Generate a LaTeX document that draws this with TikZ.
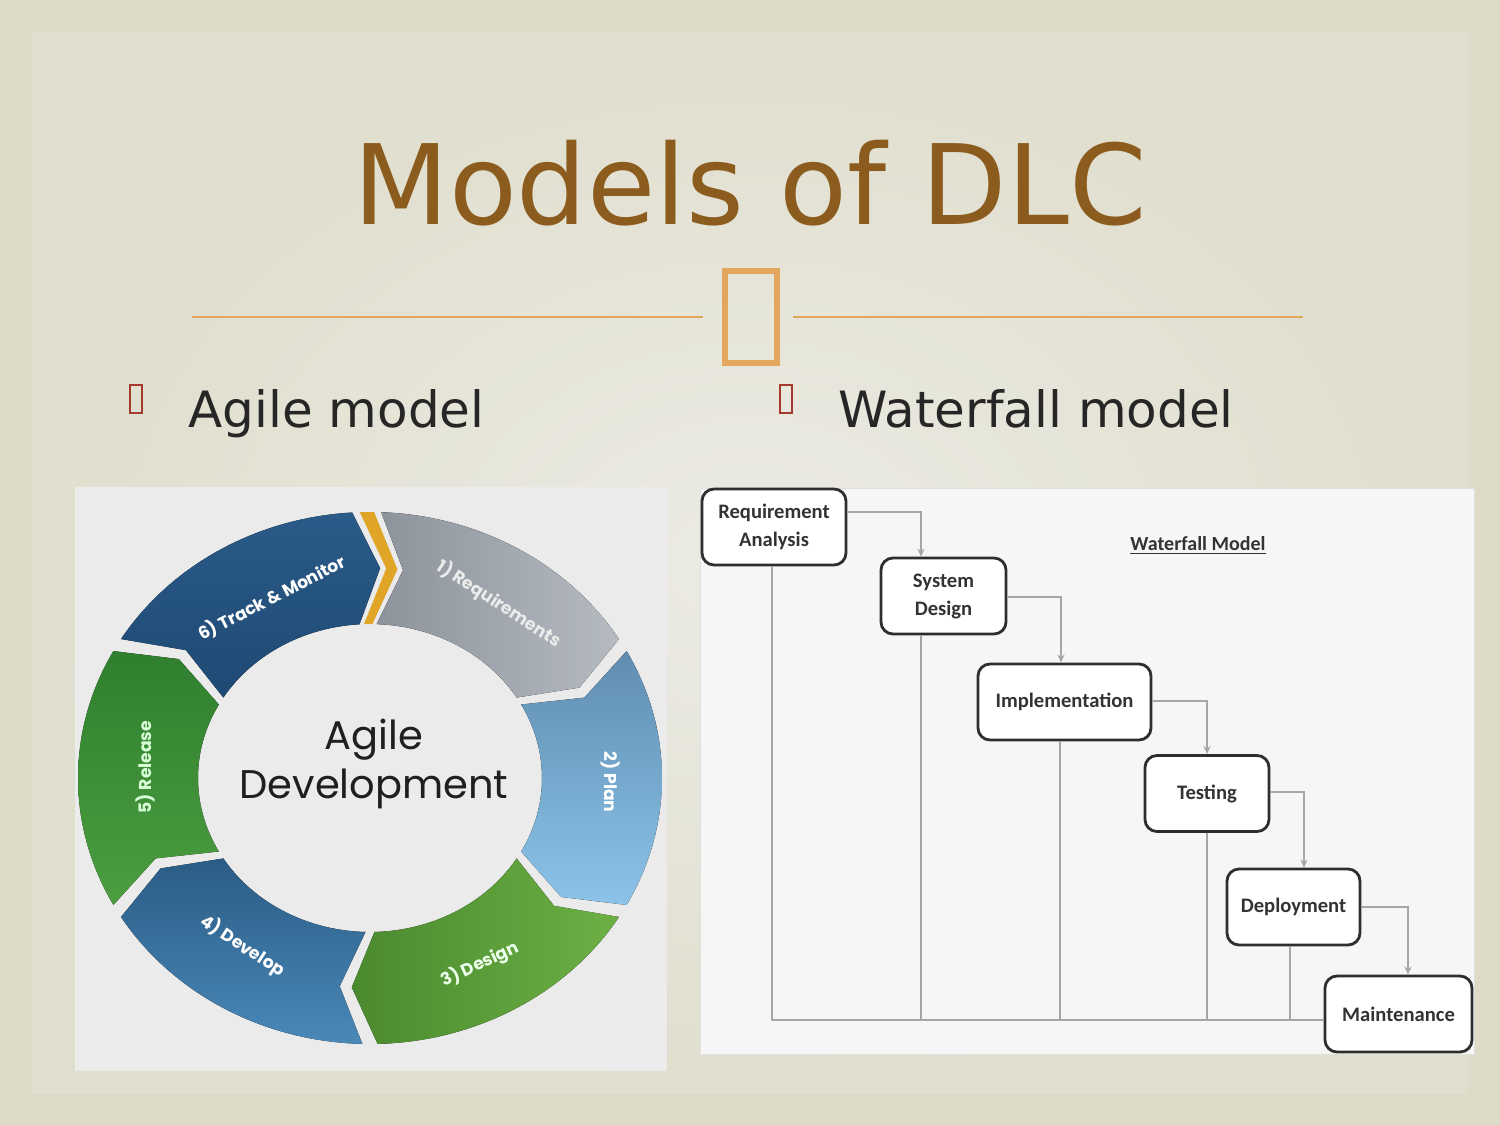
\documentclass[tikz,border=0pt]{standalone}
\usepackage{fontspec}
\setmainfont{DejaVu Sans}
\newfontfamily\popfont{Poppins}
\newfontfamily\carfont{Carlito}
\usetikzlibrary{arrows.meta}
\definecolor{bgout}{HTML}{DDDBC8}
\definecolor{bgmid}{HTML}{E0DECD}
\definecolor{bgin}{HTML}{ECEBE4}
\definecolor{titlebrown}{HTML}{8B5C1E}
\definecolor{rulegold}{HTML}{E2A75C}
\definecolor{bulletred}{HTML}{A23A2D}
\definecolor{bodytext}{HTML}{262626}
\definecolor{agilebg}{HTML}{EBEBEB}
\definecolor{wfbg}{HTML}{F6F6F6}
\definecolor{chevgold}{HTML}{E0A526}
\definecolor{s6a}{HTML}{2A5A87}\definecolor{s6b}{HTML}{1E4A74}
\definecolor{s1a}{HTML}{8D939B}\definecolor{s1b}{HTML}{B6BBC2}
\definecolor{s2a}{HTML}{5F8DB1}\definecolor{s2b}{HTML}{8CC3E8}
\definecolor{s3a}{HTML}{4A8A2E}\definecolor{s3b}{HTML}{6CB045}
\definecolor{s4a}{HTML}{2B5C85}\definecolor{s4b}{HTML}{4A88B8}
\definecolor{s5a}{HTML}{2F7F2F}\definecolor{s5b}{HTML}{4C9E40}
\def\wcx{370}\def\wcy{778}
\def\wRx{292}\def\wRy{266}
\def\wrx{172}\def\wry{154}
\def\wmx{232}\def\wmy{210}
\newcommand\agileseg[3]{%
  \fill[#3] plot[domain=#1:#2, samples=40, variable=\t] ({\wcx+\wRx*cos(\t)},{\wcy-\wRy*sin(\t)})
    -- ({\wcx+\wmx*cos(#2-6)},{\wcy-\wmy*sin(#2-6)})
    -- plot[domain=#2:#1, samples=40, variable=\t] ({\wcx+\wrx*cos(\t)},{\wcy-\wry*sin(\t)})
    -- ({\wcx+\wmx*cos(#1-6)},{\wcy-\wmy*sin(#1-6)}) -- cycle;}
\begin{document}
\begin{tikzpicture}[x=0.5pt,y=-0.5pt,
  seglabel/.style={font=\popfont\bfseries\fontsize{8.6}{10}\selectfont, inner sep=0pt},
  wfbox/.style={draw=black!82, line width=1.4pt, rounded corners=6pt, fill=white,
    font=\carfont\bfseries\fontsize{10.3}{14}\selectfont, text=black!80, align=center,
    minimum height=38pt, inner sep=0pt},
  wfline/.style={draw=black!35, line width=1pt},
  wfarrow/.style={wfline, -{Stealth[length=4pt,width=3.5pt]}},
]
\useasboundingbox (0,0) rectangle (1500,1125);
% background
\fill[bgout] (0,0) rectangle (1500,1125);
\shade[inner color=bgin, outer color=bgmid] (32,32) rectangle (1468,1093);
% title
\node[font=\fontsize{55.5}{60}\selectfont, text=titlebrown, anchor=base, inner sep=0pt] (title) at (750,224) {Models of DLC};
% rule with glyph box
\draw[rulegold, line width=1pt] (192,317) -- (703,317);
\draw[rulegold, line width=1pt] (793,317) -- (1303,317);
\draw[rulegold, line width=3pt] (725,271) rectangle (777,363);
% bullets
\draw[bulletred, line width=0.6pt] (130,385) rectangle (142,413);
\draw[bulletred, line width=0.6pt] (780,385) rectangle (792,413);
\node[font=\fontsize{25}{30}\selectfont, text=bodytext, anchor=base west, inner sep=0pt] (agt) at (188,427) {Agile model};
\node[font=\fontsize{25}{30}\selectfont, text=bodytext, anchor=base west, inner sep=0pt] (wft) at (838,427) {Waterfall model};
% ===== Agile picture =====
\fill[agilebg] (75,487) rectangle (667,1071);
\agileseg{148.5}{93.5}{top color=s6a, bottom color=s6b}
\agileseg{87.8}{31.5}{left color=s1a, right color=s1b}
\agileseg{28.5}{-28.5}{top color=s2a, bottom color=s2b}
\agileseg{-31.5}{-88.5}{left color=s3a, right color=s3b}
\agileseg{-91.5}{-148.5}{top color=s4a, bottom color=s4b}
\agileseg{208.5}{151.5}{top color=s5a, bottom color=s5b}
% gold chevron
\fill[chevgold] ({\wcx+\wRx*cos(92)},{\wcy-\wRy*sin(92)}) -- ({\wcx+\wRx*cos(89.2)},{\wcy-\wRy*sin(89.2)})
  -- ({\wcx+\wmx*cos(83.2)},{\wcy-\wmy*sin(83.2)}) -- ({\wcx+\wrx*cos(89.2)},{\wcy-\wry*sin(89.2)})
  -- ({\wcx+\wrx*cos(92)},{\wcy-\wry*sin(92)}) -- ({\wcx+\wmx*cos(86)},{\wcy-\wmy*sin(86)}) -- cycle;
% segment labels
\node[seglabel, text=white, rotate=27] (l6) at (272,598) {6) Track \& Monitor};
\node[seglabel, text=black!8, rotate=-33] (l1) at (499,604) {1) Requirements};
\node[seglabel, text=white, rotate=-90] (l2) at (611,782) {2) Plan};
\node[seglabel, text=green!8!white, rotate=25] (l3) at (480,964) {3) Design};
\node[seglabel, text=white, rotate=-33] (l4) at (243,946) {4) Develop};
\node[seglabel, text=green!15!white, rotate=90] (l5) at (145,767) {5) Release};
\node[font=\popfont\fontsize{20}{24.5}\selectfont, align=center, text=black!88, inner sep=0pt] (agc) at (374,764) {Agile\\Development};
% ===== Waterfall picture =====
\fill[wfbg, draw=black!12, line width=0.5pt] (700,488) rectangle (1474,1054);
\node[font=\carfont\bfseries\fontsize{10}{12}\selectfont, text=black!80] (wftitle) at (1198,546) {\underline{Waterfall Model}};
\node[wfbox, minimum width=72pt] (RA) at (774,527) {Requirement\\Analysis};
\node[wfbox, minimum width=62.5pt] (SD) at (943.5,596) {System\\Design};
\node[wfbox, minimum width=86.5pt] (IM) at (1064.5,702) {Implementation};
\node[wfbox, minimum width=62pt] (TE) at (1207,793.5) {Testing};
\node[wfbox, minimum width=66.5pt] (DE) at (1293.5,907) {Deployment};
\node[wfbox, minimum width=73.5pt] (MA) at (1398.5,1014) {Maintenance};
% forward connectors
\draw[wfarrow] (RA.east |- 0,512) -| (SD.north -| 921,0);
\draw[wfarrow] (SD.east |- 0,597) -| (IM.north -| 1061,0);
\draw[wfarrow] (IM.east |- 0,701) -| (TE.north -| 1207,0);
\draw[wfarrow] (TE.east |- 0,792) -| (DE.north -| 1304,0);
\draw[wfarrow] (DE.east |- 0,907) -| (MA.north -| 1408,0);
% feedback lines
\coordinate (fb) at (0,1020);
\draw[wfline] (RA.south -| 772,0) -- (fb -| 772,0);
\draw[wfline] (SD.south -| 921,0) -- (fb -| 921,0);
\draw[wfline] (IM.south -| 1060,0) -- (fb -| 1060,0);
\draw[wfline] (TE.south -| 1207,0) -- (fb -| 1207,0);
\draw[wfline] (DE.south -| 1290,0) -- (fb -| 1290,0);
\draw[wfline] (fb -| 771,0) -- (MA.west |- fb);
\end{tikzpicture}
\end{document}
